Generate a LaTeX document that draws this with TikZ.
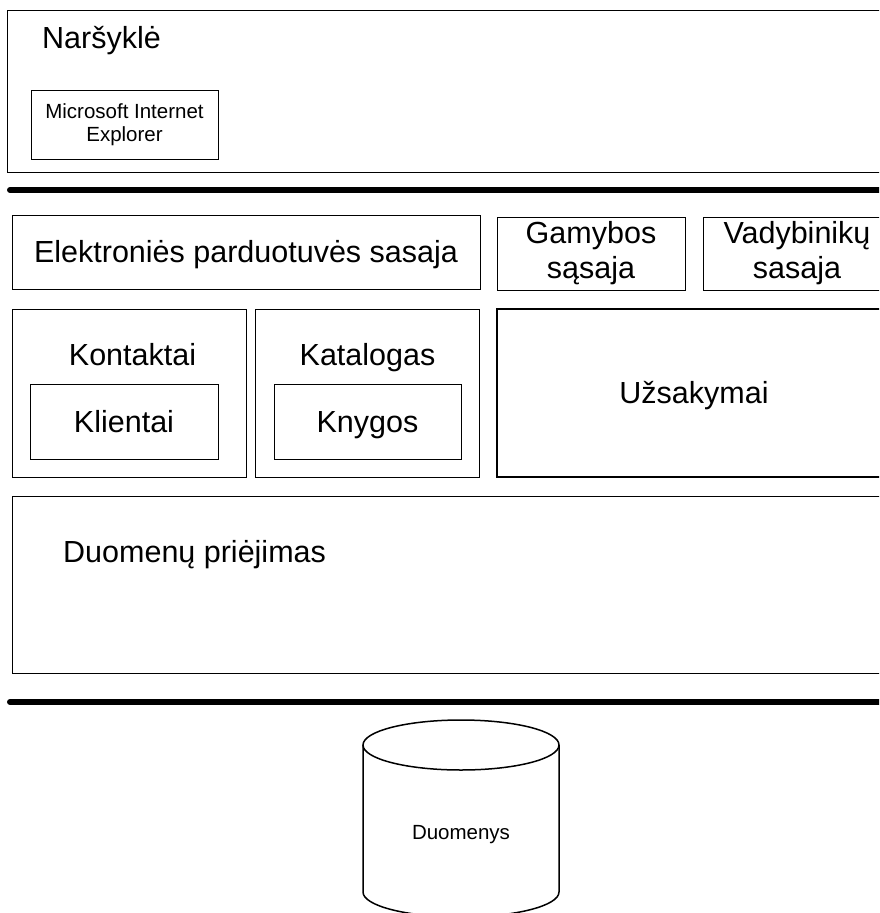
\documentclass[tikz,border=0pt]{standalone}
\usepackage{fontspec}
\setmainfont{Liberation Sans}
\newcommand{\bigtxt}{\fontsize{30.5}{35}\selectfont}
\newcommand{\smalltxt}{\fontsize{20.5}{23.5}\selectfont}
\begin{document}
\begin{tikzpicture}[x=1pt,y=-1pt,
  layerbox/.style={draw, line width=1pt, inner sep=0pt, outer sep=0pt,
    anchor=north west, align=center, font=\bigtxt},
  oneline/.style={layerbox, text height=21.8pt, text depth=0pt},
  smallbox/.style={layerbox, font=\smalltxt},
  heavybox/.style={oneline, line width=1.8pt},
  label/.style={inner sep=0pt, font=\bigtxt},
  separator/.style={line width=6pt, line cap=round},
  dbline/.style={line width=1.5pt}]
\useasboundingbox (0,0) rectangle (879,913);
\clip (0,0) rectangle (879,913);

% browser tier
\node[layerbox, minimum width=900pt, minimum height=162pt] (browser) at (7,10) {};
\node[label, anchor=base west] (browserlbl) at (42,48) {Naršyklė};
\node[smallbox, minimum width=187pt, minimum height=69pt] (ie) at (31,90)
  {Microsoft Internet\\Explorer};

% network separator
\coordinate (sepAw) at (10,190);
\coordinate (sepAe) at (895,190);
\draw[separator] (sepAw) -- (sepAe);

% user interfaces
\node[oneline, minimum width=468pt, minimum height=74pt] (shopui) at (12,215)
  {Elektroniės parduotuvės sasaja};
\node[layerbox, minimum width=188pt, minimum height=73pt] (produi) at (497,217)
  {Gamybos\\sąsaja};
\node[layerbox, minimum width=188pt, minimum height=73pt] (mgrui) at (703,217)
  {Vadybinikų\\sasaja};

% business components
\node[layerbox, minimum width=234pt, minimum height=168pt] (contacts) at (12,309) {};
\node[label, anchor=base] (contactslbl) at (132.5,365) {Kontaktai};
\node[oneline, minimum width=188pt, minimum height=75pt] (clients) at (30,384) {Klientai};

\node[layerbox, minimum width=224pt, minimum height=168pt] (catalog) at (255,309) {};
\node[label, anchor=base] (cataloglbl) at (367.5,365) {Katalogas};
\node[oneline, minimum width=187pt, minimum height=75pt] (books) at (274,384) {Knygos};

\node[heavybox, minimum width=394pt, minimum height=168pt] (orders) at (497,309) {Užsakymai};

% data access
\node[layerbox, minimum width=900pt, minimum height=177pt] (dal) at (12,496) {};
\node[label, anchor=base west] (dallbl) at (63,562) {Duomenų priėjimas};

% database separator
\coordinate (sepBw) at (10,702);
\coordinate (sepBe) at (895,702);
\draw[separator] (sepBw) -- (sepBe);

% database cylinder (radii in pt are canvas units, so 270 degrees points down)
\draw[dbline] (461,745) ellipse [x radius=98pt, y radius=25pt];
\draw[dbline] (363,745) -- (363,892)
  arc[start angle=180, end angle=360, x radius=98pt, y radius=25pt]
  -- (559,745);
\node[inner sep=0pt, font=\smalltxt, text height=14.7pt, text depth=0pt] (db)
  at (461,832) {Duomenys};
\end{tikzpicture}
\end{document}
